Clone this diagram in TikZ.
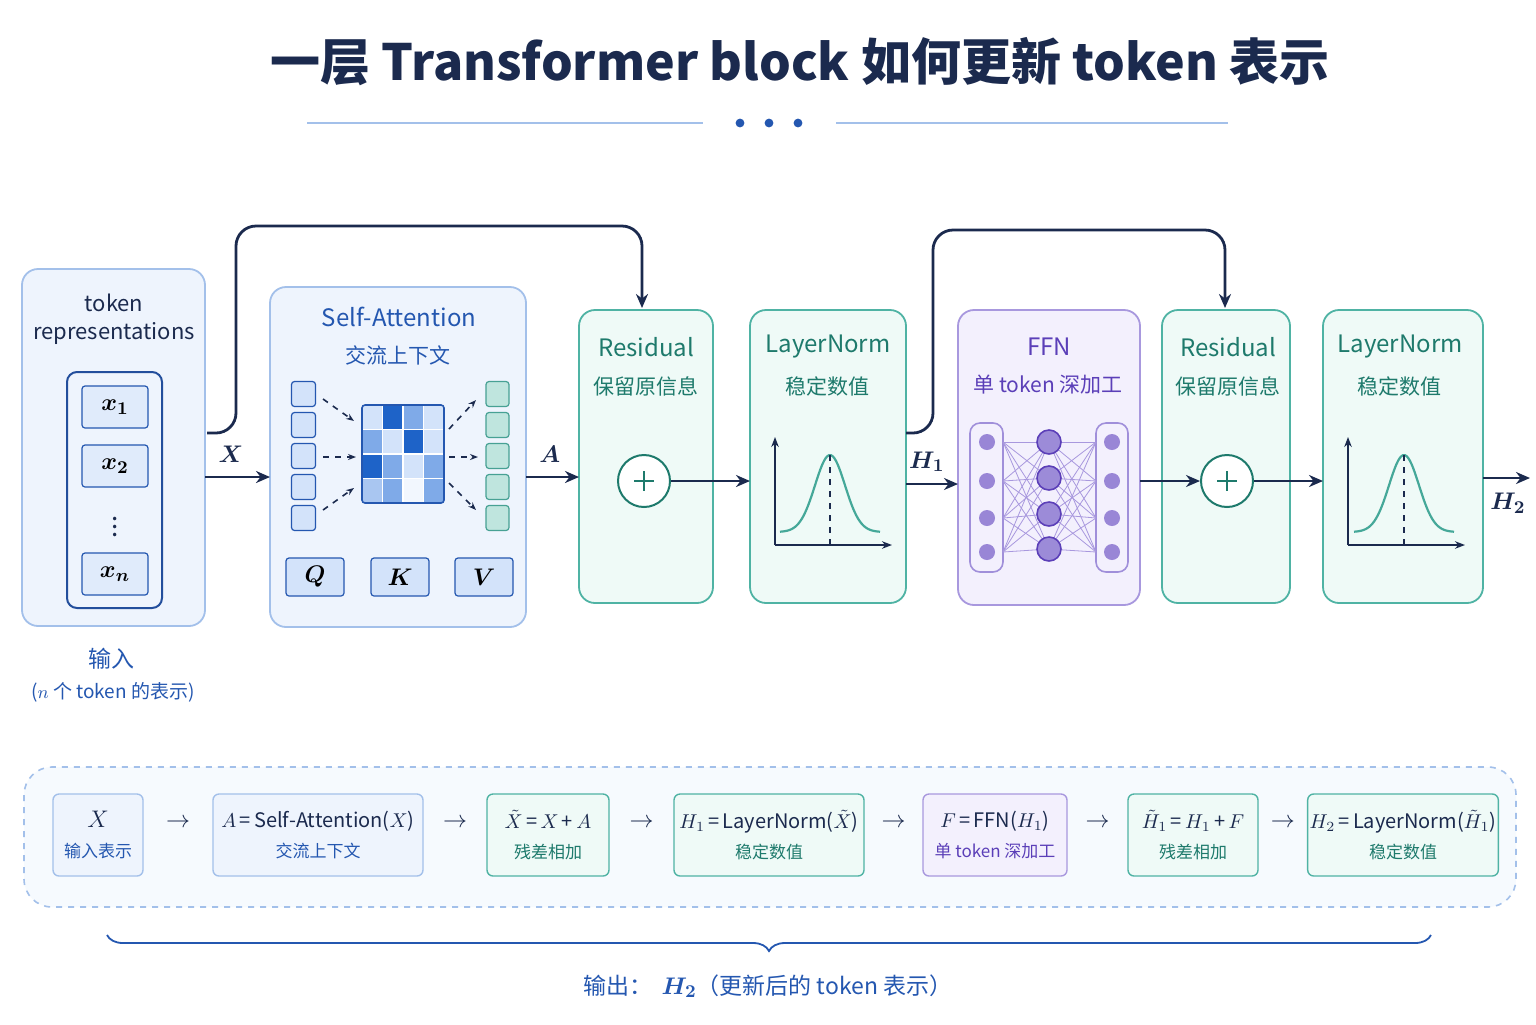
\documentclass[tikz,border=0pt]{standalone}
\usepackage{amsmath}
\usepackage{fontspec}
\setmainfont{Noto Sans CJK SC}
\usetikzlibrary{arrows.meta,decorations.pathreplacing}
\definecolor{navy}{HTML}{1B2A4E}
\definecolor{bblue}{HTML}{2457B0}
\definecolor{bfill}{HTML}{EEF4FD}
\definecolor{bline}{HTML}{A3C0EA}
\definecolor{tteal}{HTML}{1E7A6C}
\definecolor{tfill}{HTML}{EFFAF7}
\definecolor{tline}{HTML}{4FB3A4}
\definecolor{ppur}{HTML}{5B3FB8}
\definecolor{pfill}{HTML}{F3F0FD}
\definecolor{pline}{HTML}{A898DE}
\definecolor{c1}{HTML}{D3E3FA}
\definecolor{c2}{HTML}{7FAAE8}
\definecolor{c3}{HTML}{1E63C8}
\definecolor{c4}{HTML}{A9C6F1}
\definecolor{c0}{HTML}{F2F7FE}
\newcommand\myfs{\fontsize{8.5}{10}\selectfont}
\newcommand\myfm{\fontsize{10}{12}\selectfont\color{navy}}
\tikzset{
 blk/.style={rounded corners=8pt,line width=0.9pt},
 bb/.style={blk,draw=bline,fill=bfill},
 tb/.style={blk,draw=tline,fill=tfill},
 pb/.style={blk,draw=pline,fill=pfill},
 arr/.style={-{Stealth[length=7pt,width=6pt]},line width=1.4pt,draw=navy},
 tt/.style={font=\fontsize{12}{14}\selectfont},
 st/.style={font=\fontsize{10.5}{12}\selectfont},
 sq/.style={draw=bblue,fill=c1,rounded corners=1.5pt,line width=0.6pt},
 sqt/.style={draw=tline!90!black,fill=tfill!70!tline,rounded corners=1.5pt,line width=0.6pt},
 da/.style={-{Stealth[length=4pt]},dashed,line width=0.8pt,draw=navy},
 fb/.style={rounded corners=3pt,line width=0.7pt,minimum height=41pt,inner sep=1pt},
 ar2/.style={font=\fontsize{13}{13}\selectfont,text=navy},
}
\begin{document}
\begin{tikzpicture}[x=0.5pt,y=-0.5pt]
\useasboundingbox[fill=white] (0,0) rectangle (1536,1024);
% title
\node[font=\fontsize{25}{28}\selectfont\bfseries,text=navy] (title) at (800,62) {一层 Transformer block 如何更新 token 表示};
\draw[bline,line width=0.8pt] (307,123) -- (703,123) (836,123) -- (1228,123);
\foreach \x in {740,769,798} \fill[bblue] (\x,123) circle (2.2pt);
% token box
\draw[bb] (22,269) rectangle (205,626);
\node[font=\fontsize{11}{13}\selectfont,text=navy,align=center] (tok) at (114,319) {token\\[1pt]representations};
\draw[rounded corners=5pt,draw=bblue!80!navy,line width=1pt,fill=bfill] (67,372) rectangle (162,608);
\node[sq,minimum width=33pt,minimum height=21pt,fill=c1!70] (x1) at (115,407) {\fontsize{13}{13}\selectfont$\boldsymbol{x_1}$};
\node[sq,minimum width=33pt,minimum height=21pt,fill=c1!70] (x2) at (115,466) {\fontsize{13}{13}\selectfont$\boldsymbol{x_2}$};
\node[text=navy] (vd) at (115,521) {\fontsize{13}{13}\selectfont$\boldsymbol{\vdots}$};
\node[sq,minimum width=33pt,minimum height=21pt,fill=c1!70] (xn) at (115,574) {\fontsize{13}{13}\selectfont$\boldsymbol{x_n}$};
\node[font=\fontsize{11.5}{13}\selectfont,text=bblue] (in1) at (111,659) {输入};
\node[font=\fontsize{9.5}{12}\selectfont,text=bblue] (in2) at (113,692) {($n$ 个 token 的表示)};
% self-attention
\draw[bb] (270,287) rectangle (526,627);
\node[tt,text=bblue] (sa) at (399,317) {Self-Attention};
\node[st,text=bblue] (sa2) at (398,355) {交流上下文};
\foreach \i in {0,...,4} {
 \node[sq,minimum width=12pt,minimum height=12.5pt] (l\i) at (303.5,394+\i*31) {};
 \node[sqt,minimum width=11.5pt,minimum height=12.5pt] (r\i) at (497.5,394+\i*31) {};
}
\def\cw{20.5}\def\ch{24.5}
\foreach \r/\row in {0/{c1,c3,c2,c1},1/{c2,c1,c3,c1},2/{c3,c2,c1,c2},3/{c4,c2,c0,c2}} {
 \foreach \c [count=\k from 0] in \row {
  \fill[\c] (362+\k*\cw,405+\r*\ch) rectangle ++(\cw,\ch);
 }
}
\foreach \k in {1,2,3} {\draw[white,line width=0.6pt] (362+\k*\cw,405) -- ++(0,98); \draw[white,line width=0.6pt] (362,405+\k*\ch) -- ++(82,0);}
\draw[bblue,line width=0.8pt,rounded corners=1.5pt] (362,405) rectangle (444,503);
\draw[da] (323,399) -- (354,421);
\draw[da] (323,457) -- (356,457);
\draw[da] (323,510) -- (354,488);
\draw[da] (449,429) -- (476,400);
\draw[da] (449,457) -- (478,457);
\draw[da] (449,483) -- (476,510);
\foreach \n/\x/\l in {q/315/Q,k/400/K,v/484/V} \node[sq,minimum width=29pt,minimum height=19pt] (\n) at (\x,577) {\fontsize{12}{12}\selectfont$\boldsymbol{\l}$};
% residual 1
\draw[tb] (579,310) rectangle (713,603);
\node[tt,text=tteal] (r1t) at (646,347) {Residual};
\node[st,text=tteal] (r1s) at (646,386) {保留原信息};
\node[circle,draw=tteal,line width=1pt,minimum size=26pt,fill=white] (p1) at (644,481) {};
\draw[tteal,line width=1.3pt] (634,481) -- (654,481) (644,471) -- (644,491);
% layernorm 1
\draw[tb] (750,310) rectangle (906,603);
\node[tt,text=tteal] (ln1t) at (828,347) {LayerNorm};
\node[st,text=tteal] (ln1s) at (827,386) {稳定数值};
% FFN
\draw[pb] (958,310) rectangle (1140,605);
\node[tt,text=ppur] (fft) at (1049,347) {FFN};
\node[st,text=ppur] (ffs) at (1048,385) {单 token 深加工};
\draw[pline!90!ppur,line width=0.8pt,rounded corners=5pt,fill=pfill] (970,423) rectangle (1003,572);
\draw[pline!90!ppur,line width=0.8pt,rounded corners=5pt,fill=pfill] (1096,423) rectangle (1128,572);
\foreach \i/\y in {1/442,2/478,3/514,4/549} {
 \foreach \j/\yy in {1/442,2/481,3/518,4/552} {
  \draw[pline,line width=0.4pt] (1003,\yy) -- (1049,\y) -- (1096,\yy);
 }
}
\foreach \i/\y in {1/442,2/481,3/518,4/552} {
 \node[circle,fill=pline!80!ppur,minimum size=8pt,inner sep=0] (nl\i) at (987,\y) {};
 \node[circle,fill=pline!80!ppur,minimum size=8pt,inner sep=0] (nr\i) at (1112,\y) {};
}
\foreach \i/\y in {1/442,2/478,3/514,4/549} \node[circle,draw=ppur,line width=0.8pt,fill=pline!85!ppur,minimum size=12pt,inner sep=0] (nm\i) at (1049,\y) {};
% residual 2
\draw[tb] (1162,310) rectangle (1290,603);
\node[tt,text=tteal] (r2t) at (1228,347) {Residual};
\node[st,text=tteal] (r2s) at (1228,386) {保留原信息};
\node[circle,draw=tteal,line width=1pt,minimum size=26pt,fill=white] (p2) at (1227,481) {};
\draw[tteal,line width=1.3pt] (1217,481) -- (1237,481) (1227,471) -- (1227,491);
% layernorm 2
\draw[tb] (1323,310) rectangle (1483,603);
\node[tt,text=tteal] (ln2t) at (1400,347) {LayerNorm};
\node[st,text=tteal] (ln2s) at (1399,386) {稳定数值};
% bell curves
\foreach \ox/\cx in {775/830,1348/1404} {
 \draw[-{Stealth[length=5pt]},navy,line width=0.9pt] (\ox,545) -- (\ox,437);
 \draw[-{Stealth[length=5pt]},navy,line width=0.9pt] (\ox,545) -- (\ox+117,545);
 \draw[tline!80!tteal,line width=1.1pt,domain=-50:50,samples=60,smooth] plot ({\cx+\x},{532-77*exp(-(\x*\x)/(2*15*15))});
 \draw[navy,dashed,line width=0.7pt] (\cx,455) -- (\cx,545);
}
% main arrows
\coordinate (xs) at (205,477);
\draw[arr] (xs) -- (270,477) node[pos=0.4,above=3pt,text=navy] {\fontsize{13}{13}\selectfont$\boldsymbol{X}$};
\draw[arr] (526,477) -- (579,477) node[pos=0.45,above=3pt,text=navy] {\fontsize{13}{13}\selectfont$\boldsymbol{A}$};
\draw[arr] (p1) -- (750,481);
\draw[arr] (906,484) -- (958,484) node[pos=0.4,above=2pt,text=navy] {\fontsize{13}{13}\selectfont$\boldsymbol{H_1}$};
\draw[arr] (1140,481) -- (p2);
\draw[arr] (p2) -- (1323,481);
\coordinate (out) at (1530,478);
\draw[arr] (1483,478) -- (out);
\node[text=navy] (h2) at (1508,503) {\fontsize{13}{13}\selectfont$\boldsymbol{H_2}$};
% skip connections
\draw[arr,rounded corners=10pt] (207,433) -- (236,433) -- (236,226) -- (642,226) -- (642,308);
\draw[arr,rounded corners=10pt] (906,433) -- (933,433) -- (933,230) -- (1225,230) -- (1225,308);
% bottom formulas
\draw[bline,dashed,line width=0.8pt,rounded corners=14pt,fill=bfill!50] (24,767) rectangle (1516,907);
\node[fb,draw=bline,fill=bfill,minimum width=45pt,align=center] (f1) at (98,835) {\fontsize{12}{13}\selectfont\color{navy}$X$\\[3pt]\myfs\color{bblue}输入表示};
\node[fb,draw=bline,fill=bfill,minimum width=105pt,align=center] (f2) at (318,835) {\myfm $A$\,=\,Self-Attention($X$)\\[3pt]\myfs\color{bblue}交流上下文};
\node[fb,draw=tline,fill=tfill,minimum width=61pt,align=center] (f3) at (548,835) {\myfm $\tilde X$\,=\,$X$\,+\,$A$\\[3pt]\myfs\color{tteal}残差相加};
\node[fb,draw=tline,fill=tfill,minimum width=95pt,align=center] (f4) at (769,835) {\myfm $H_1$\,=\,LayerNorm($\tilde X$)\\[3pt]\myfs\color{tteal}稳定数值};
\node[fb,draw=pline,fill=pfill,minimum width=72pt,align=center] (f5) at (995,835) {\myfm $F$\,=\,FFN($H_1$)\\[3pt]\myfs\color{ppur}单 token 深加工};
\node[fb,draw=tline,fill=tfill,minimum width=65pt,align=center] (f6) at (1193,835) {\myfm $\tilde H_1$\,=\,$H_1$\,+\,$F$\\[3pt]\myfs\color{tteal}残差相加};
\node[fb,draw=tline,fill=tfill,minimum width=92pt,align=center] (f7) at (1403,835) {\myfm $H_2$\,=\,LayerNorm($\tilde H_1$)\\[3pt]\myfs\color{tteal}稳定数值};
\foreach \a/\b in {f1/f2,f2/f3,f3/f4,f4/f5,f5/f6,f6/f7} \path (\a.east) -- (\b.west) node[midway,ar2,yshift=6pt] {$\rightarrow$};
% brace
\coordinate (b1) at (107,935); \coordinate (b2) at (1431,935);
\draw[bblue,line width=0.9pt,decorate,decoration={brace,mirror,amplitude=8pt}] (b1) -- (b2);
\node[font=\fontsize{11.5}{13}\selectfont,text=bblue] (outt) at (768,986) {输出： \,{\fontsize{13}{13}\selectfont$\boldsymbol{H_2}$}（更新后的 token 表示）};
\end{tikzpicture}
\end{document}
